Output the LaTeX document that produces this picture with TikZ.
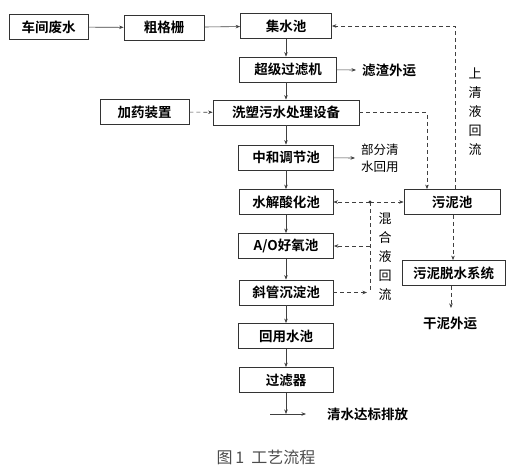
\documentclass[tikz,border=0pt]{standalone}
\usepackage{fontspec}
\setmainfont{Noto Sans CJK SC}[BoldFont={Noto Sans CJK SC Bold}]
\usetikzlibrary{arrows.meta, positioning, calc}

\tikzset{
  box/.style={rectangle, draw=black!80, thick, fill=white, minimum height=25pt,
    inner sep=1pt, font=\fontsize{13.5}{15}\selectfont\bfseries},
  note/.style={inner sep=0pt, font=\fontsize{13.5}{15}\selectfont\bfseries},
  vnote/.style={inner sep=0pt, align=center, font=\fontsize{13}{19}\selectfont},
  flow/.style={-{Stealth[length=4.5pt,width=3.5pt]}, black!75, semithick},
  back/.style={flow, dashed, dash pattern=on 4pt off 3pt}
}

\begin{document}
\begin{tikzpicture}[x=1pt, y=-1pt]
\useasboundingbox (0,0) rectangle (532,473);

% main line
\node[box, minimum width=79pt] (fs) at (48.5, 27) {车间废水};
\node[box, minimum width=80pt] (cgs) at (164, 27.5) {粗格栅};
\node[box, minimum width=91pt] (jsc) at (286, 26) {集水池};
\node[box, minimum width=97pt] (cjl) at (288, 69.5) {超级过滤机};
\node[box, minimum width=89pt] (jy) at (144.5, 112) {加药装置};
\node[box, minimum width=146pt] (xs) at (286, 112.5) {洗塑污水处理设备};
\node[box, minimum width=95pt] (zh) at (286, 157.5) {中和调节池};
\node[box, minimum width=94pt] (sj) at (286, 202) {水解酸化池};
\node[box, minimum width=95pt] (ao) at (286, 246) {A/O好氧池};
\node[box, minimum width=94pt] (xg) at (286, 292.5) {斜管沉淀池};
\node[box, minimum width=95pt] (hy) at (286, 336) {回用水池};
\node[box, minimum width=94pt] (glq) at (286, 380) {过滤器};

% sludge side
\node[box, minimum width=96pt] (wn) at (452, 202) {污泥池};
\node[box, minimum width=103pt] (ts) at (453.5, 273) {污泥脱水系统};

% free texts
\node[note, anchor=west] (lz) at (362, 70) {滤渣外运};
\node[vnote, anchor=west, font=\fontsize{12.5}{17}\selectfont] (bf) at (361, 158) {部分清\\水回用};
\node[note] (gn) at (450, 323) {干泥外运};
\node[note, anchor=west] (ps) at (327, 414) {清水达标排放};
\node[vnote] (sq) at (475, 112) {上\\清\\液\\回\\流};
\node[vnote] (hh) at (385, 257) {混\\合\\液\\回\\流};
\node[inner sep=0pt, text=black!70, font=\fontsize{16}{18}\selectfont] (cap) at (266, 457) {图\,1\ \ 工艺流程};

% turning points
\coordinate (p1) at (427, 112.5);
\coordinate (p2) at (455, 26);
\coordinate (jn) at (370, 202);
\coordinate (p3) at (370, 292.5);
\coordinate (p4) at (370, 246);
\coordinate (o1) at (270, 414);
\coordinate (o2) at (306, 414);
\coordinate (g1) at (451, 308);

%connections
\draw[flow] (fs) -- (cgs);
\draw[flow] (cgs) -- (jsc);
\draw[flow] (jsc) -- (jsc |- cjl.north);
\draw[flow] (cjl) -- ($(lz.west)+(-6,0)$);
\draw[flow] (cjl.south -| jsc) -- (jsc |- xs.north);
\draw[back] (jy) -- (xs);
\draw[flow] (xs) -- (xs |- zh.north);
\draw[flow] (zh) -- ($(bf.west)+(-6,0)$);
\draw[flow] (zh) -- (sj);
\draw[flow] (sj) -- (ao);
\draw[flow] (ao) -- (xg);
\draw[flow] (xg) -- (hy);
\draw[flow] (hy) -- (glq);
\draw[flow] (glq) -- (glq |- o1);
\draw[flow] (o1) -- (o2);

\draw[back] (xs) -- (p1) -- (p1 |- wn.north);
\draw[back] (p2 |- wn.north) -- (p2) -- (jsc);
\draw[back] (wn.south -| 453,0) -- (ts.north -| 453,0);
\draw[back] (ts.south -| g1) -- (g1);

\draw[back] (jn) -- (sj);
\draw[back] (jn) -- (wn);
\draw[black!75, semithick, dashed, dash pattern=on 4pt off 3pt] (jn) -- (p3);
\draw[back] (p4) -- (ao);
\draw[back] (xg) -- ($(p3)+(-3,0)$);
\fill[black!80] (jn) circle (1.6pt);
\end{tikzpicture}
\end{document}
